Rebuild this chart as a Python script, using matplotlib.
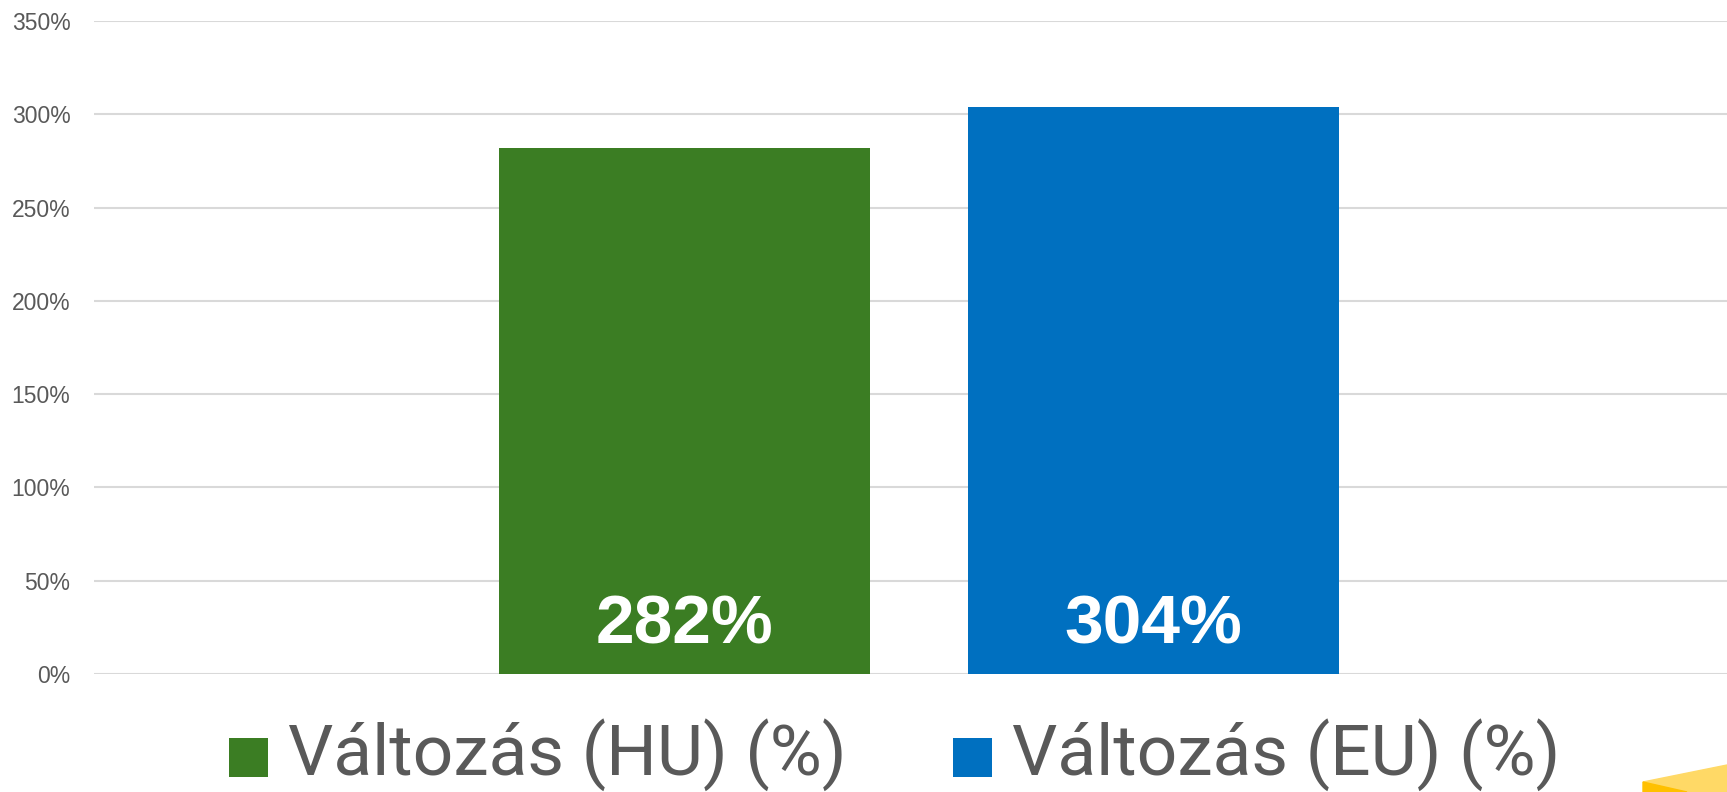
import matplotlib
matplotlib.use("Agg")
import matplotlib.pyplot as plt
from matplotlib.patches import Polygon, Rectangle
from matplotlib.legend_handler import HandlerPatch

# data
series = ["Változás (HU) (%)", "Változás (EU) (%)"]
values = [282, 304]
colors = ["#3B7D23", "#0070C0"]
offsets = [-0.1385, 0.149]
bar_width = 0.227
y_ticks = [0, 50, 100, 150, 200, 250, 300, 350]

fig = plt.figure(figsize=(17.27, 7.92), dpi=100)
ax = fig.add_axes([94 / 1727, 118 / 792, 1 - 94 / 1727, (771 - 118) / 792])

bars = []
for name, val, col, off in zip(series, values, colors, offsets):
    b = ax.bar(off, val, width=bar_width, color=col, label=name, zorder=3)
    bars.append(b)
    # value label inside the bar, near its base
    ax.annotate(f"{val}%", xy=(off, 0), xytext=(0, 22), textcoords="offset points",
                ha="center", va="baseline", color="white", fontsize=50,
                fontweight="bold", family="Liberation Sans", zorder=4)

ax.set_xlim(-0.5, 0.5)
ax.set_ylim(0, 350)
ax.set_yticks(y_ticks)
ax.set_yticklabels([f"{t}%" for t in y_ticks], family="Liberation Sans",
                   fontsize=16.5, color="#595959")
ax.set_xticks([])
ax.tick_params(axis="y", length=0, pad=17)
ax.grid(axis="y", color="#D9D9D9", linewidth=1.5, zorder=0)
for s in ax.spines.values():
    s.set_visible(False)


# square legend marker sitting on the text baseline
def square(legend, orig_handle, xdescent, ydescent, width, height, fontsize):
    side = 0.55 * fontsize
    return Rectangle((-xdescent, -ydescent - 0.03 * fontsize), side, side)


leg = fig.legend(handles=[b[0] for b in bars], labels=series, loc="center",
                 bbox_to_anchor=(0.518, 0.047), ncol=2, frameon=False,
                 prop={"family": "Roboto", "size": 51.3},
                 handlelength=0.55, handleheight=0.7, handletextpad=0.27,
                 columnspacing=1.5, borderpad=0, borderaxespad=0,
                 handler_map={Rectangle: HandlerPatch(patch_func=square)})
for t in leg.get_texts():
    t.set_color("#595959")

# yellow decorative shape in the bottom-right corner
fig.patches.append(Polygon([(1643 / 1727, 10 / 792), (1, 27 / 792), (1, 0), (1687 / 1727, 0)],
                           closed=True, transform=fig.transFigure, color="#FFD966"))
fig.patches.append(Polygon([(1643 / 1727, 10 / 792), (1687 / 1727, 0), (1643 / 1727, 0)],
                           closed=True, transform=fig.transFigure, color="#FFC000"))

fig.savefig("out.png", dpi=100)
